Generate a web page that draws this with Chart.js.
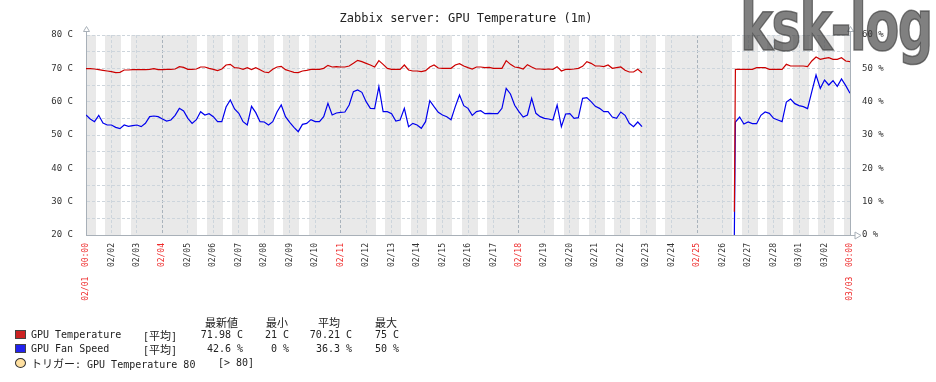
<!DOCTYPE html>
<html>
<head>
<meta charset="utf-8">
<script src="https://cdn.jsdelivr.net/npm/chart.js@4/dist/chart.umd.min.js"></script>
<style>
  html, body { margin: 0; padding: 0; background: #fff; }
  #wrap { position: relative; width: 936px; height: 382px; overflow: hidden;
          font-family: 'DejaVu Sans Mono', 'Noto Sans CJK JP', monospace; color: #222; }
  #c { position: absolute; left: 0; top: 0; }
  #title { position: absolute; left: 0; top: 11px; width: 932px; text-align: center;
           font-size: 12px; line-height: 14px; color: #222; white-space: pre; }
  #mark { position: absolute; left: 740px; top: -8px; font-family: 'DejaVu Sans Condensed', 'DejaVu Sans';
          font-weight: bold; font-size: 69px; line-height: 69px; color: rgba(60,60,60,0.65);
          -webkit-text-stroke: 1.5px rgba(60,60,60,0.65);
          transform: scaleX(0.8); transform-origin: 0 0; white-space: pre; letter-spacing: -2px; }
  .t { position: absolute; font-size: 10px; line-height: 12px; white-space: pre; }
  .jp { font-family: 'Noto Sans CJK JP', sans-serif; font-size: 11px; }
  .box { position: absolute; width: 9px; height: 7px; border: 1px solid #444; }
  .dot { position: absolute; width: 9px; height: 8px; border: 1px solid #333; border-radius: 50%; background: #ffe0a0; }
</style>
</head>
<body>
<div id="wrap">
  <canvas id="c" width="936" height="382"></canvas>
  <div id="title">Zabbix server: GPU Temperature (1m)</div>
  <div id="mark">ksk-log</div>
  <div id="legend"></div>
</div>
<script>
// ---- DATA ----
// x axis: hours since 02/01 00:00, one label per day
const dayLabels = ['02/01  00:00','02/02','02/03','02/04','02/05','02/06','02/07','02/08','02/09','02/10',
  '02/11','02/12','02/13','02/14','02/15','02/16','02/17','02/18','02/19','02/20','02/21','02/22',
  '02/23','02/24','02/25','02/26','02/27','02/28','03/01','03/02','03/03  00:00'];
const redDays = [0, 3, 10, 17, 24, 30];
const firstWeekday = 4;          // 02/01 is a Thursday
const workHours = [9, 18];

// first run: 02/01 00:00 .. 02/22 20:00, every 4 hours
const stepA = 4;
const tempA = [
  69.9,69.9,69.8,69.6,69.4,69.2,69.0,68.7,68.8,69.5,
  69.5,69.6,69.6,69.6,69.6,69.7,69.9,69.6,69.6,69.7,
  69.7,69.8,70.5,70.3,69.7,69.7,69.8,70.4,70.4,70.0,
  69.7,69.3,69.8,71.0,71.2,70.2,70.1,69.7,70.2,69.6,
  70.2,69.6,68.9,68.7,69.7,70.4,70.6,69.6,69.2,68.8,
  68.7,69.2,69.4,69.7,69.7,69.7,70.0,70.9,70.4,70.5,
  70.4,70.4,
  70.7,71.5,72.4,72.0,71.5,71.0,70.4,72.3,71.2,70.0,
  69.7,69.7,69.7,71.0,69.5,69.2,69.2,69.0,69.3,70.4,
  71.0,70.1,70.0,70.0,70.0,71.0,71.4,70.7,70.2,69.8,
  70.4,70.4,70.2,70.3,70.0,70.0,70.0,72.3,71.2,70.4,
  70.2,69.8,71.1,70.4,69.8,69.8,69.7,69.8,69.7,70.5,
  69.2,69.7,69.7,69.8,70.0,70.6,72.0,71.5,70.7,70.7,
  70.5,71.0,70.0,70.2,70.4,69.4,68.9,68.9,69.7,68.7
];
const fanA = [
  36.0,34.8,34.0,35.9,33.6,33.0,33.0,32.3,31.9,33.0,
  32.6,32.8,33.0,32.5,33.5,35.5,35.7,35.5,34.8,34.2,
  34.5,35.9,38.0,37.2,35.0,33.5,34.6,37.0,36.0,36.4,
  35.5,34.0,34.0,38.4,40.5,37.8,36.5,34.0,33.0,38.6,
  36.7,34.0,33.9,33.0,34.0,36.9,39.0,35.5,33.8,32.3,
  31.0,33.2,33.5,34.6,34.0,34.0,35.5,39.5,36.0,36.6,
  36.8,36.9,
  39.0,43.0,43.5,42.8,40.0,38.0,37.9,44.5,37.0,37.0,
  36.4,34.2,34.5,38.0,32.5,33.5,33.0,32.0,34.0,40.3,
  38.5,36.8,36.0,35.5,34.6,38.5,42.0,38.8,38.0,35.9,
  37.0,37.3,36.4,36.5,36.4,36.4,38.0,44.0,42.3,38.9,
  37.0,35.4,36.0,41.0,36.5,35.5,35.0,34.8,34.5,39.0,
  32.5,36.3,36.4,35.0,35.2,41.0,41.2,40.0,38.6,38.0,
  37.0,37.0,35.4,35.0,36.9,35.9,33.5,32.5,33.9,32.5
];

// second run after the outage: 02/26 11:00 .. 03/03 00:00
const hoursB = [611,612,616,620,624,628,632,636,640,644,648,652,656,660,664,668,672,676,680,
  684,688,692,696,700,704,708,712,716,720];
const tempB = [27.0,69.7,69.7,69.7,69.7,69.7,70.2,70.2,70.2,69.7,69.7,69.7,69.7,71.2,70.7,70.7,70.7,70.7,70.5,
  72.2,73.4,72.7,73.0,73.2,72.7,72.7,73.2,72.2,72.0];
const fanB = [0.0,33.9,35.4,33.3,33.9,33.4,33.4,35.9,36.9,36.5,35.0,34.5,34.0,39.9,40.8,39.4,38.8,38.5,37.9,
  43.0,48.0,44.0,46.5,45.0,46.3,44.6,46.8,44.8,42.5];
const gapAt = 568;

// legend
const seriesNames = ['GPU Temperature', 'GPU Fan Speed'];
const seriesColors = ['#CC0000', '#0000EE'];
const statHeads = ['最新値', '最小', '平均', '最大'];
const statLast = ['71.98 C', '42.6 %'];
const statMin = ['21 C', '0 %'];
const statAvg = ['70.21 C', '36.3 %'];
const statMax = ['75 C', '50 %'];

function buildPoints(a, b) {
  const pts = a.map((v, i) => ({x: i * stepA, y: v}));
  pts.push({x: gapAt, y: null});
  hoursB.forEach((h, i) => pts.push({x: h, y: b[i]}));
  return pts;
}

// ---- PLUGIN: working time bands + axis arrows ----
const axisCol = '#a8b0b8';
const zbxDecor = {
  id: 'zbxDecor',
  beforeDraw(chart) {
    const {ctx, chartArea: a, scales: {x}} = chart;
    ctx.save();
    ctx.fillStyle = '#e9e9e9';
    ctx.fillRect(a.left, a.top, a.right - a.left, a.bottom - a.top);
    ctx.fillStyle = '#ffffff';
    for (let d = 0; d < dayLabels.length - 1; d++) {
      const wd = (firstWeekday + d) % 7;
      if (wd === 0 || wd === 6) continue;
      const x1 = Math.round(x.getPixelForValue(d * 24 + workHours[0]));
      const x2 = Math.round(x.getPixelForValue(d * 24 + workHours[1]));
      ctx.fillRect(x1, a.top, x2 - x1, a.bottom - a.top);
    }
    ctx.restore();
  },
  afterDraw(chart) {
    const {ctx, chartArea: a} = chart;
    ctx.save();
    ctx.strokeStyle = axisCol;
    ctx.lineWidth = 1;
    [a.left, a.right].forEach(px => {
      const xx = Math.round(px) + 0.5;
      ctx.beginPath();
      ctx.moveTo(xx, a.top); ctx.lineTo(xx, a.top - 4);
      ctx.stroke();
      ctx.beginPath();
      ctx.moveTo(xx - 3, a.top - 3.5); ctx.lineTo(xx, a.top - 8.5); ctx.lineTo(xx + 3, a.top - 3.5); ctx.closePath();
      ctx.fillStyle = '#fff'; ctx.fill(); ctx.stroke();
    });
    const yy = Math.round(a.bottom) + 0.5;
    ctx.beginPath();
    ctx.moveTo(a.right, yy); ctx.lineTo(a.right + 5, yy);
    ctx.stroke();
    ctx.beginPath();
    ctx.moveTo(a.right + 5, yy - 3.5); ctx.lineTo(a.right + 11, yy); ctx.lineTo(a.right + 5, yy + 3.5); ctx.closePath();
    ctx.fillStyle = '#fff'; ctx.fill(); ctx.stroke();
    ctx.restore();
  }
};

const tickFont = {family: 'DejaVu Sans Mono', size: 9};
const gridCol = '#cdd5dc';
const gridDark = '#a9b3bc';

new Chart(document.getElementById('c'), {
  type: 'line',
  data: {
    datasets: [
      { label: seriesNames[0], data: buildPoints(tempA, tempB), yAxisID: 'y',
        borderColor: seriesColors[0], borderWidth: 1.2, pointRadius: 0, tension: 0, spanGaps: false },
      { label: seriesNames[1], data: buildPoints(fanA, fanB), yAxisID: 'y2',
        borderColor: seriesColors[1], borderWidth: 1.2, pointRadius: 0, tension: 0, spanGaps: false }
    ]
  },
  options: {
    responsive: false,
    animation: false,
    events: [],
    layout: { padding: { top: 35, left: 0, right: 0, bottom: 0 } },
    plugins: { legend: { display: false }, title: { display: false }, tooltip: { enabled: false } },
    scales: {
      x: {
        type: 'linear', min: 0, max: 720,
        afterFit: s => { s.height = 147; },
        afterBuildTicks: s => { s.ticks = dayLabels.map((l, i) => ({value: i * 24})); },
        ticks: {
          autoSkip: false, minRotation: 90, maxRotation: 90, padding: 8,
          font: {family: 'DejaVu Sans Mono', size: 8},
          color: c => redDays.includes(Math.round(c.tick.value / 24)) ? '#ee2a2a' : '#333',
          callback: v => dayLabels[Math.round(v / 24)]
        },
        grid: {
          drawTicks: false, lineWidth: 1,
          color: c => (c.tick && redDays.includes(Math.round(c.tick.value / 24))) ? gridDark : gridCol
        },
        border: { display: true, color: axisCol, width: 1, dash: [3, 2] }
      },
      y: {
        position: 'left', min: 20, max: 80,
        afterFit: s => { s.width = 86; },
        ticks: { stepSize: 5, autoSkip: false, padding: 13, font: tickFont, color: '#333',
                 callback: v => v % 10 === 0 ? v + ' C' : '' },
        grid: { drawTicks: false, color: gridCol, lineWidth: 1 },
        border: { display: true, color: axisCol, width: 1, dash: [3, 2] }
      },
      y2: {
        position: 'right', min: 0, max: 60,
        afterFit: s => { s.width = 86; },
        ticks: { stepSize: 10, autoSkip: false, padding: 12, font: tickFont, color: '#333',
                 callback: v => v + ' %' },
        grid: { drawTicks: false, drawOnChartArea: false },
        border: { display: true, color: axisCol, width: 1 }
      }
    }
  },
  plugins: [zbxDecor]
});

// ---- LEGEND ----
const leg = document.getElementById('legend');
function cell(txt, left, top, width, cls) {
  const s = document.createElement('span');
  s.className = 't' + (cls ? ' ' + cls : '');
  s.textContent = txt;
  s.style.left = left + 'px';
  s.style.top = top + 'px';
  if (width) { s.style.width = width + 'px'; s.style.textAlign = 'right'; }
  leg.appendChild(s);
  return s;
}
const headLeft = [205, 266, 318, 375];
statHeads.forEach((h, i) => cell(h, headLeft[i], 316, 0, 'jp'));
const rowTop = [329, 343];
rowTop.forEach((t, r) => {
  const b = document.createElement('div');
  b.className = 'box';
  b.style.left = '15px'; b.style.top = (t + 1) + 'px';
  b.style.background = r === 0 ? '#cc2222' : '#2222ee';
  leg.appendChild(b);
  cell(seriesNames[r], 31, t);
  const f = cell('[', 143, t);
  const j = document.createElement('span'); j.className = 'jp'; j.textContent = '平均'; f.appendChild(j);
  f.appendChild(document.createTextNode(']'));
  cell(statLast[r], 180, t, 63);
  cell(statMin[r], 240, t, 49);
  cell(statAvg[r], 290, t, 62);
  cell(statMax[r], 340, t, 59);
});
const dot = document.createElement('div');
dot.className = 'dot'; dot.style.left = '15px'; dot.style.top = '358px';
leg.appendChild(dot);
const trig = cell('', 31, 357);
const tj = document.createElement('span'); tj.className = 'jp'; tj.textContent = 'トリガー'; trig.appendChild(tj);
trig.appendChild(document.createTextNode(': GPU Temperature 80'));
cell('[> 80]', 218, 357);
</script>
</body>
</html>
